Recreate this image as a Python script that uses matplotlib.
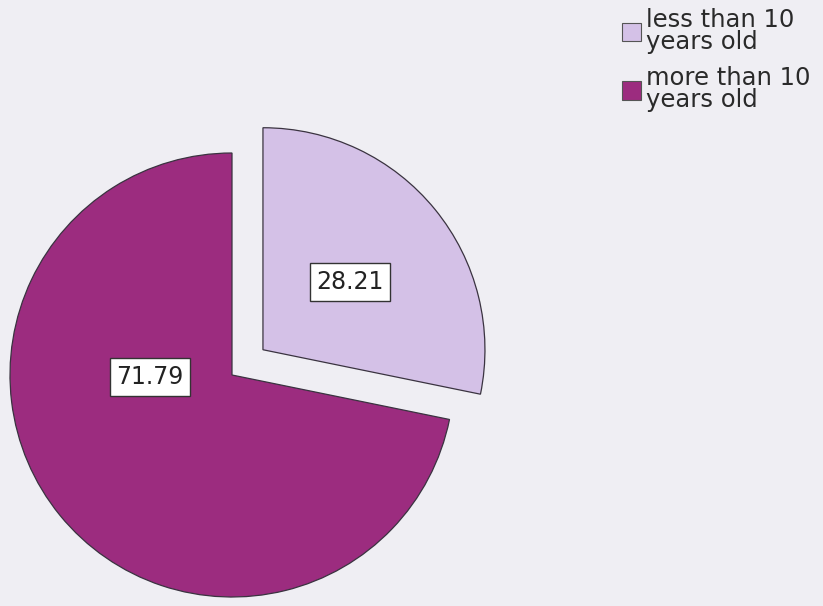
import matplotlib.pyplot as plt
from matplotlib.patches import Patch

labels = ['less than 10\nyears old', 'more than 10\nyears old']
values = [28.21, 71.79]
colors = ['#d4c1e7', '#9c2c7f']
explode = [0.18, 0.0]

fig = plt.figure(figsize=(8.23, 6.06), dpi=100)
fig.patch.set_facecolor('#efeef3')
ax = fig.add_axes([0, 0, 1, 1])
ax.set_facecolor('#efeef3')

wedges, _ = ax.pie(values, colors=colors, explode=explode, startangle=90,
                   counterclock=False,
                   wedgeprops=dict(edgecolor='#3a3340', linewidth=0.9))

# pie centre sits at pixel (232, 375) with radius ~222 px
r = 222.0
ax.set_xlim(-232 / r, (823 - 232) / r)
ax.set_ylim(-(606 - 375) / r, 375 / r)
ax.set_aspect('auto')
ax.axis('off')

box = dict(boxstyle='square,pad=0.28', facecolor='white', edgecolor='#333333', linewidth=1.0)
ax.text(0.532, 0.419, f'{values[0]:.2f}', ha='center', va='center',
        fontsize=17, color='#222222', bbox=box)
ax.text(-0.369, -0.009, f'{values[1]:.2f}', ha='center', va='center',
        fontsize=17, color='#222222', bbox=box)

handles = [Patch(facecolor=c, edgecolor='#555555', linewidth=0.8) for c in colors]
leg = fig.legend(handles, labels, loc='upper left', bbox_to_anchor=(622 / 823, 1 - 8 / 606),
                 frameon=False, fontsize=17.5, handlelength=0.8, handleheight=0.8,
                 handletextpad=0.2, labelspacing=0.5, borderaxespad=0, borderpad=0)
for t in leg.get_texts():
    t.set_color('#2a2a2a')
    t.set_linespacing(0.9)

fig.savefig('out.png', dpi=100, facecolor=fig.get_facecolor())
